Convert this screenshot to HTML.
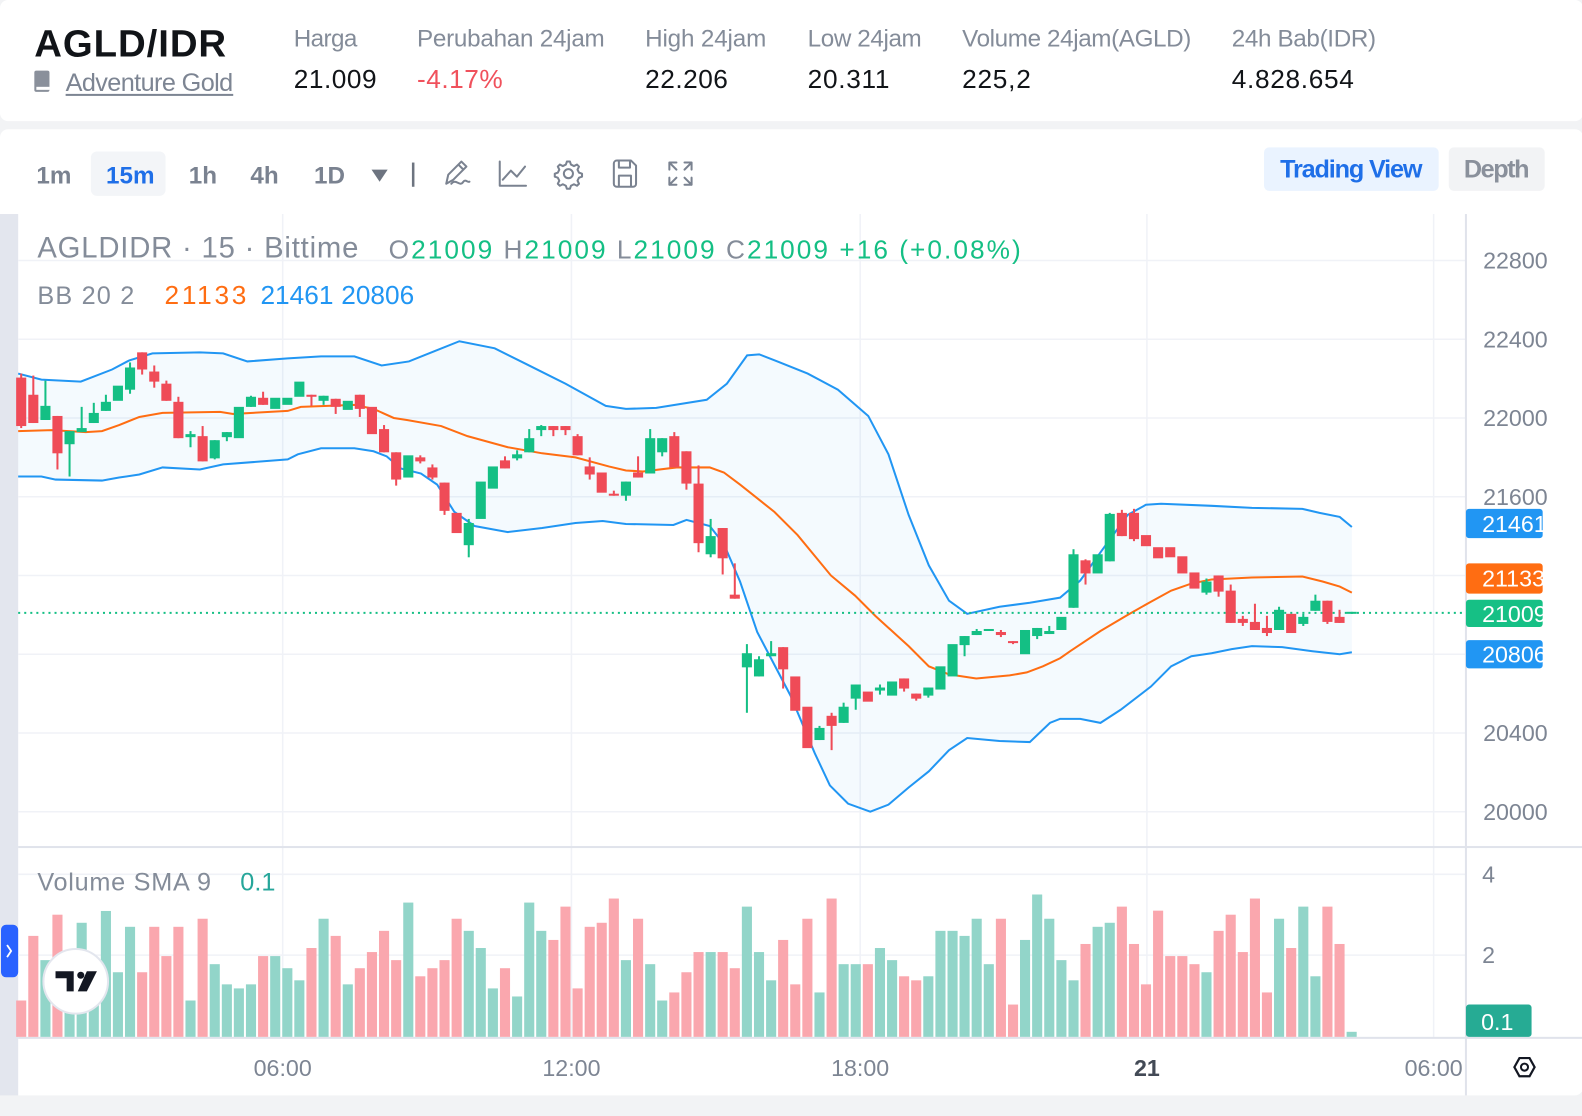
<!DOCTYPE html>
<html><head><meta charset="utf-8"><style>
html,body{margin:0;padding:0;background:#f2f3f5;overflow:hidden;width:1582px;height:1105px;}
svg#s{display:block;position:absolute;left:0;top:0;transform:scale(1.0096);transform-origin:0 0;}
text{font-family:"Liberation Sans Narrow","Liberation Sans",sans-serif;}
</style></head><body>
<svg id="s" width="1582" height="1105" xmlns="http://www.w3.org/2000/svg">
<rect x="0" y="0" width="1600" height="1120" fill="#f2f3f5"/>
<rect x="0" y="0" width="1568" height="120" rx="8" fill="#fff"/>
<rect x="0" y="128" width="1568" height="957" rx="8" fill="#fff"/>
<text x="34" y="56" font-size="38" font-weight="bold" fill="#111418" textLength="190">AGLD/IDR</text>
<rect x="34" y="70" width="15" height="21" rx="2" fill="#8a909b"/>
<rect x="36" y="86" width="13" height="3" fill="#fff"/>
<text x="65" y="90" font-size="25" fill="#7d8593" textLength="166">Adventure Gold</text>
<rect x="65" y="93" width="166" height="2" fill="#7d8593"/>
<g font-size="24" fill="#848c99">
<text x="291" y="46" textLength="63">Harga</text>
<text x="413" y="46" textLength="186">Perubahan 24jam</text>
<text x="639" y="46" textLength="120">High 24jam</text>
<text x="800" y="46" textLength="113">Low 24jam</text>
<text x="953" y="46" textLength="227">Volume 24jam(AGLD)</text>
<text x="1220" y="46" textLength="143">24h Bab(IDR)</text>
</g>
<g font-size="26" fill="#111418">
<text x="291" y="87" textLength="82">21.009</text>
<text x="413" y="87" fill="#f0515c" textLength="85">-4.17%</text>
<text x="639" y="87" textLength="82">22.206</text>
<text x="800" y="87" textLength="81">20.311</text>
<text x="953" y="87" textLength="68">225,2</text>
<text x="1220" y="87" textLength="121">4.828.654</text>
</g>
<rect x="90" y="150" width="74" height="44" rx="6" fill="#f3f5f8"/>
<g font-size="24" font-weight="bold" fill="#7a8290">
<text x="36" y="182">1m</text>
<text x="105" y="182" fill="#1f6fe8">15m</text>
<text x="187" y="182">1h</text>
<text x="248" y="182">4h</text>
<text x="311" y="182">1D</text>
</g>
<path d="M368 168 L384 168 L376 180 Z" fill="#6d7480"/>
<rect x="408" y="161" width="2.5" height="24" fill="#6d7480"/>
<g fill="none" stroke="#7a8290" stroke-width="2" stroke-linejoin="round" stroke-linecap="round">
<path d="M442 182 L444 173 L457 160 L462 165 L449 178 Z M454 163 L459 168 M447 182 C452 176 455 186 459 180 C461 177 463 181 465 180"/>
<path d="M495 160 V184 H521 M498 178 L506 169 L512 175 L520 165"/>
<circle cx="563" cy="172" r="4.5"/>
<path d="M563 160 l3 0 l1 3 l3 1.5 l3 -1.5 l2 2 l-1.5 3 l1.5 3 l3 1 l0 3 l-3 1 l-1.5 3 l1.5 3 l-2 2 l-3 -1.5 l-3 1.5 l-1 3 l-3 0 l-1 -3 l-3 -1.5 l-3 1.5 l-2 -2 l1.5 -3 l-1.5 -3 l-3 -1 l0 -3 l3 -1 l1.5 -3 l-1.5 -3 l2 -2 l3 1.5 l3 -1.5 Z" transform="translate(-1.5 0)"/>
<path d="M608 162 a3 3 0 0 1 3 -3 H625 L630 164 V182 a3 3 0 0 1 -3 3 H611 a3 3 0 0 1 -3 -3 Z M613 159 V166 H624 V159 M613 185 V174 H625 V185"/>
<path d="M663 168 V161 H670 M663 161 L670 168 M685 168 V161 H678 M685 161 L678 168 M663 176 V183 H670 M663 183 L670 176 M685 176 V183 H678 M685 183 L678 176"/>
</g>
<rect x="1252" y="146" width="173" height="43" rx="5" fill="#eaf3ff"/>
<text x="1268" y="176" font-size="25" font-weight="bold" fill="#1f6fe8" textLength="141">Trading View</text>
<rect x="1435" y="146" width="95" height="43" rx="5" fill="#f2f3f5"/>
<text x="1450" y="176" font-size="25" font-weight="bold" fill="#8a909b" textLength="65">Depth</text>
<rect x="0" y="212" width="18" height="873" fill="#e3e6ee"/>
<rect x="1" y="916" width="17" height="52" rx="5" fill="#2962ff"/>
<path d="M7 936 L11 942 L7 948" stroke="#fff" stroke-width="1.8" fill="none"/>
<g stroke="#f0f2f7" stroke-width="1.5">
<line x1="18" y1="258" x2="1452" y2="258"/><line x1="18" y1="336" x2="1452" y2="336"/>
<line x1="18" y1="414" x2="1452" y2="414"/><line x1="18" y1="492" x2="1452" y2="492"/>
<line x1="18" y1="570" x2="1452" y2="570"/><line x1="18" y1="648" x2="1452" y2="648"/>
<line x1="18" y1="726" x2="1452" y2="726"/><line x1="18" y1="804" x2="1452" y2="804"/>
<line x1="18" y1="866" x2="1452" y2="866"/><line x1="18" y1="946" x2="1452" y2="946"/>
<line x1="280" y1="212" x2="280" y2="1028"/><line x1="566" y1="212" x2="566" y2="1028"/>
<line x1="852" y1="212" x2="852" y2="1028"/><line x1="1136" y1="212" x2="1136" y2="1028"/>
<line x1="1420" y1="212" x2="1420" y2="1028"/>
</g>
<rect x="18" y="838" width="1550" height="2" fill="#e0e3eb"/>
<rect x="18" y="1027" width="1550" height="2" fill="#e0e3eb"/>
<rect x="1451" y="212" width="2" height="873" fill="#e0e3eb"/>
<g id="bb"></g>
<line x1="18" y1="607" x2="1452" y2="607" stroke="#14bf84" stroke-width="2" stroke-dasharray="2 4"/>
<g id="cd"></g>
<g id="vol"></g>
<text x="37" y="255" font-size="29" fill="#848c99" textLength="318">AGLDIDR · 15 · Bittime</text>
<text x="385" y="256" font-size="26" fill="#848c99" textLength="626"><tspan>O</tspan><tspan fill="#14bf84">21009</tspan> <tspan>H</tspan><tspan fill="#14bf84">21009</tspan> <tspan>L</tspan><tspan fill="#14bf84">21009</tspan> <tspan>C</tspan><tspan fill="#14bf84">21009</tspan> <tspan fill="#14bf84">+16 (+0.08%)</tspan></text>
<text x="37" y="301" font-size="25" fill="#848c99" textLength="96">BB 20 2</text>
<text x="163" y="301" font-size="26" fill="#ff6d12" textLength="81">21133</text>
<text x="258" y="301" font-size="26" fill="#2196f3">21461</text>
<text x="338" y="301" font-size="26" fill="#2196f3">20806</text>
<text x="37" y="882" font-size="25" fill="#848c99" textLength="172">Volume SMA 9</text>
<text x="238" y="882" font-size="25" fill="#26a69a">0.1</text>
<circle cx="75" cy="972" r="32" fill="#fff" stroke="#e3e6ee" stroke-width="2"/>
<path d="M55 962 H73 V982 H66 V969 H55 Z" fill="#131722"/>
<circle cx="80" cy="966" r="3.5" fill="#131722"/>
<path d="M86 962 H96 L86 982 H77 Z" fill="#131722"/>
<g font-size="23" fill="#7d8593">
<text x="1469" y="266">22800</text><text x="1469" y="344">22400</text>
<text x="1469" y="422">22000</text><text x="1469" y="500">21600</text>
<text x="1469" y="734">20400</text><text x="1469" y="812">20000</text>
<text x="1468" y="874">4</text><text x="1468" y="954">2</text>
</g>
<rect x="1452" y="504" width="76" height="29" rx="3" fill="#2196f3"/>
<text x="1468" y="527" font-size="23" fill="#fff">21461</text>
<rect x="1452" y="558" width="76" height="30" rx="3" fill="#ff6d12"/>
<text x="1468" y="581" font-size="23" fill="#fff">21133</text>
<rect x="1452" y="594" width="76" height="27" rx="3" fill="#16c085"/>
<text x="1468" y="616" font-size="23" fill="#fff">21009</text>
<rect x="1452" y="634" width="76" height="28" rx="3" fill="#2196f3"/>
<text x="1468" y="656" font-size="23" fill="#fff">20806</text>
<rect x="1452" y="995" width="65" height="32" rx="3" fill="#26ab94"/>
<text x="1467" y="1020" font-size="23" fill="#fff">0.1</text>
<g font-size="23" fill="#7d8593" text-anchor="middle">
<text x="280" y="1066">06:00</text><text x="566" y="1066">12:00</text>
<text x="852" y="1066">18:00</text><text x="1136" y="1066" font-weight="bold" fill="#434a56">21</text>
</g>
<svg x="1380" y="1040" width="71" height="40"><text x="40" y="26" font-size="23" fill="#7d8593" text-anchor="middle">06:00</text></svg>
<path d="M1500 1057 L1505 1048 H1515 L1520 1057 L1515 1066 H1505 Z" fill="none" stroke="#131722" stroke-width="2.2"/>
<circle cx="1510" cy="1057" r="3.5" fill="none" stroke="#131722" stroke-width="2"/>
</svg>
<script>
var NS="http://www.w3.org/2000/svg";
function el(p,t,a){var e=document.createElementNS(NS,t);for(var k in a)e.setAttribute(k,a[k]);p.appendChild(e);return e;}
var up=[[18,370],[41,376],[80,378],[111,366],[128,357],[151,350],[198,349],[221,350],[245,358],[285,355],[318,353],[351,353],[378,362],[405,358],[430,348],[455,338],[490,345],[520,360],[560,380],[600,402],[620,405],[650,404],[700,396],[720,380],[740,352],[752,351],[770,358],[800,370],[830,386],[860,412],[880,450],[900,510],[920,560],[940,595],[958,608],[990,601],[1020,597],[1050,592],[1070,575],[1093,543],[1117,510],[1135,500],[1150,499],[1200,501],[1240,503],[1290,504],[1307,508],[1327,512],[1339,522]];
var mid=[[18,427],[51,426],[85,428],[101,427],[118,421],[138,413],[161,409],[218,408],[231,410],[285,407],[298,403],[351,401],[370,405],[390,414],[403,416],[437,422],[463,432],[503,443],[537,449],[570,453],[603,462],[620,466],[637,467],[670,463],[703,463],[717,468],[733,480],[767,507],[790,530],[823,570],[847,590],[867,610],[900,640],[920,660],[940,668],[967,672],[1000,669],[1017,666],[1033,660],[1050,652],[1060,645],[1090,625],[1117,609],[1140,596],[1160,585],[1180,578],[1200,574],[1240,572],[1290,571],[1310,576],[1327,581],[1339,587]];
var lo=[[18,472],[41,472],[55,475],[101,476],[118,473],[138,470],[161,463],[198,465],[221,460],[285,455],[295,450],[318,444],[351,444],[370,447],[383,452],[397,464],[417,469],[433,480],[450,507],[470,521],[503,527],[537,523],[570,518],[597,516],[620,519],[667,520],[680,515],[703,521],[717,539],[733,576],[750,626],[783,689],[807,746],[822,778],[840,796],[862,804],[880,797],[900,780],[920,764],[940,743],[958,731],[990,734],[1020,735],[1040,716],[1050,712],[1070,712],[1090,716],[1110,703],[1140,680],[1160,660],[1180,650],[1200,647],[1220,643],[1240,640],[1270,641],[1300,645],[1327,648],[1339,646]];
function pts(a){return a.map(function(p){return p[0]+","+p[1]}).join(" ");}
var bb=document.getElementById("bb");
el(bb,"polygon",{points:pts(up)+" "+pts(lo.slice().reverse()),fill:"#2196f3","fill-opacity":"0.05"});
el(bb,"polyline",{points:pts(up),fill:"none",stroke:"#2196f3","stroke-width":"2"});
el(bb,"polyline",{points:pts(lo),fill:"none",stroke:"#2196f3","stroke-width":"2"});
el(bb,"polyline",{points:pts(mid),fill:"none",stroke:"#ff6d12","stroke-width":"2"});
var g=1,r=0;
var c=[[r,374,422,370,424],[r,391,419,372,419],[g,402,416,377,416],[r,412,449,412,465],[g,427,440,427,472],[g,424,428,403,428],[g,409,419,399,419],[g,398,407,391,407],[g,382,397],[g,364,386,359,390],
[r,349,366,349,371],[r,368,378,362,384],[r,380,397,377,397],[r,398,434,393,434],[g,430,433,427,443],[r,432,457,422,457],[g,436,454,436,455],[g,428,433,428,437],[g,403,434],[g,393,403,392,403],
[r,394,401,388,401],[g,394,405],[g,394,401],[g,378,393],[r,391,392,391,402],[g,392,397,392,401],[r,395,403,395,410],[g,397,406],[r,391,405,391,413],[r,403,430],
[r,425,448,421,448],[r,448,475,448,481],[g,451,473],[r,453,457,451,459],[r,463,473,460,475],[r,478,506,478,510],[r,508,528],[g,518,540,514,552],[g,477,514],[g,462,484],
[r,456,464,452,464],[g,450,454,446,456],[g,434,448,425,448],[g,422,426,421,432],[r,422,426,422,432],[r,422,426,422,431],[r,432,451,430,451],[r,462,470,453,475],[r,468,488],[r,489,491,486,491],
[g,477,491,477,496],[r,468,473,452,473],[g,434,469,425,469],[g,434,448,434,452],[r,432,463,428,463],[r,447,479,447,485],[r,479,538,461,547],[g,531,549,514,552],[r,523,553,523,569],[r,589,593,558,593],
[g,647,661,638,706],[g,653,670,650,670],[g,647,650,635,650],[r,641,663,641,682],[r,670,704],[r,700,741],[g,721,733,719,733],[r,709,719,706,743],[g,700,716,696,716],[g,678,692,678,703],
[r,685,695],[g,681,684,678,688],[g,675,689],[r,672,682,672,685],[r,687,692,687,694],[g,681,689,681,691],[g,660,683],[g,638,670],[g,630,639,630,650],[g,625,629,623,629],
[g,623,625],[r,626,629,624,631],[r,635,637,635,638],[g,624,648],[g,622,630,622,633],[g,625,628,620,628],[g,611,624],[g,549,602,544,602],[r,555,568,554,579],[g,549,568],
[g,509,556,508,556],[r,508,531,505,531],[r,508,534,504,536],[r,530,541],[r,542,553],[r,542,552],[r,551,568],[r,567,583],[g,576,587,573,589],[r,570,586,570,591],
[r,585,617,579,617],[r,613,617,610,620],[r,616,624,598,624],[r,622,627,610,630],[g,604,624,601,624],[r,608,627],[g,611,618,608,620],[g,595,605,589,605],[r,595,616,595,618],[r,611,617,604,617],
[g,606,608]];
var v=[363,171,243,108,300,132,300,97,279,144,279,144,231,144,363,120,255,315,327,315,231,231,267,303,207,120,171,315,267,219,156,243,72,291,267,243,120,156,207,327,267,351,72,156,183,84,327,144,132,60,243,120,255,363,339,279,
219,219,219,267,84,219,303,183,315,120,339,60,255,255,255,207,243,291,303,291,156,156,171,120,255,120,375,183,48,120,243,303,195,144,132,84,195,315,96,231,231,255,279,156,108,219,60,339,120,207,84,291,84,195,456];
var cd=document.getElementById("cd"),vg=document.getElementById("vol");
for(var i=0;i<c.length;i++){
 var x=21+i*11.98,d=c[i],col=d[0]?"#14bf84":"#ef4b57";
 var wt=d.length>3?d[3]:d[1],wb=d.length>3?d[4]:d[2];
 if(wt<d[1]||wb>d[2])el(cd,"rect",{x:(x-1).toFixed(1),y:wt,width:2,height:wb-wt,fill:col});
 var h=Math.max(2,d[2]-d[1]);
 el(cd,"rect",{x:(x-5).toFixed(1),y:d[1],width:10,height:h,fill:col});
 var vy=870+v[i]/3;
 el(vg,"rect",{x:(x-5).toFixed(1),y:vy.toFixed(1),width:10,height:(1027-vy).toFixed(1),fill:d[0]?"#92d5c9":"#faa7ae"});
}
</script>
</body></html>
